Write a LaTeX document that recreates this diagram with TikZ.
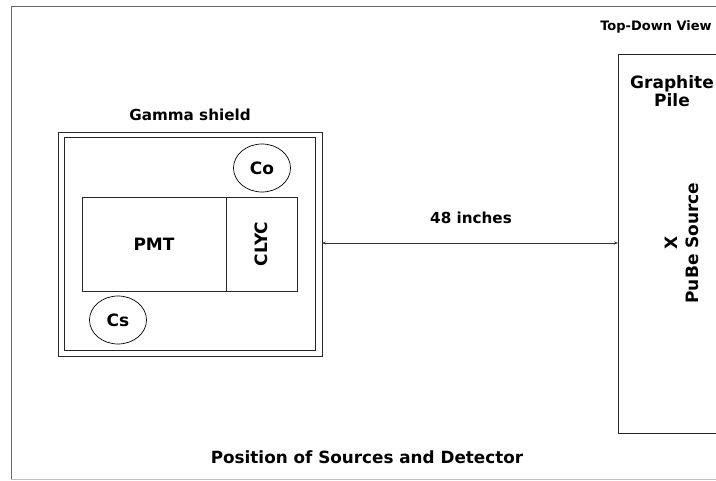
\documentclass[tikz,border=0pt]{standalone}
\usepackage{fontspec}
\setmainfont{DejaVu Sans}
\usetikzlibrary{arrows.meta,shapes.geometric}
\begin{document}
\begin{tikzpicture}[x=1pt,y=-1pt,
  lbl/.style={font=\bfseries, inner sep=0pt, align=center},
  big/.style={font=\bfseries\fontsize{17}{19}\selectfont},
  box/.style={draw=black!85, line width=0.8pt},
  src/.style={draw=black, line width=0.7pt, ellipse, minimum width=57pt, minimum height=48pt, inner sep=0pt, big}
]
\useasboundingbox (0,0) rectangle (716,481);
% outer frame
\draw[black!60, line width=1pt] (716,7) -- (11,7) -- (11,480);
\draw[black!25, line width=1pt] (11,480) -- (716,480);
% gamma shield
\draw[box] (58,132) rectangle (322,356);
\draw[box] (64,137) rectangle (315,350);
\node[lbl, font=\bfseries\fontsize{15.2}{18}\selectfont] (gs) at (190,115) {Gamma shield};
% detector
\node[box, rectangle, minimum width=144pt, minimum height=94pt, inner sep=0pt, big] (pmt) at (154,244) {PMT};
\node[box, rectangle, minimum width=71pt, minimum height=94pt, inner sep=0pt] (clyc) at (261.5,244) {};
\node[lbl, rotate=90, big] at (clyc.center) {CLYC};
% sources
\node[src] (co) at (262,168) {Co};
\node[src] (cs) at (118,320) {Cs};
% graphite pile
\draw[black!85, line width=0.8pt] (716,54) -- (618,54) -- (618,433) -- (716,433);
\coordinate (pile) at (618,243);
\coordinate (shield) at (322,243);
\node[lbl, font=\bfseries\fontsize{17}{18.5}\selectfont] (gp) at (672,91) {Graphite\\Pile};
\node[lbl, rotate=90, font=\bfseries\fontsize{17}{21}\selectfont] (pube) at (682,243) {X\\PuBe Source};
% distance
\draw[{Stealth[length=4pt,width=3pt]}-{Stealth[length=4pt,width=3pt]}, black!80, line width=0.7pt] (shield) -- (pile);
\node[lbl, font=\bfseries\fontsize{15.2}{18}\selectfont] (dist) at (471,218) {48 inches};
% labels
\node[lbl, font=\bfseries\fontsize{13}{15}\selectfont] (view) at (656,27) {Top-Down View};
\node[lbl, font=\bfseries\fontsize{16.8}{20}\selectfont] (title) at (367,457) {Position of Sources and Detector};
\end{tikzpicture}
\end{document}
